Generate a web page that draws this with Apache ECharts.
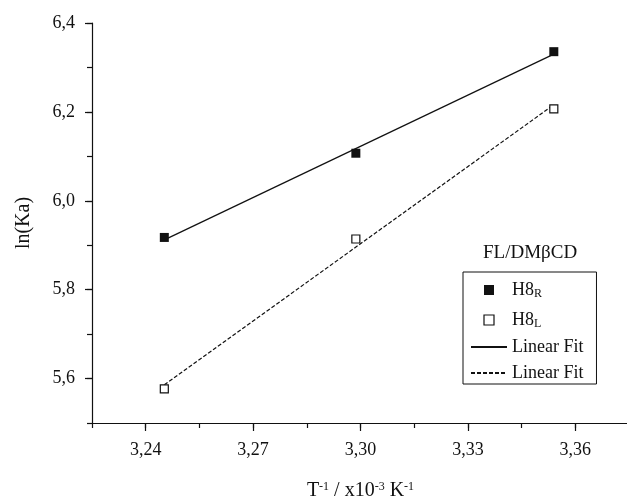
<!DOCTYPE html>
<html>
<head>
<meta charset="utf-8">
<title>ln(Ka) vs 1/T</title>
<script src="https://cdn.jsdelivr.net/npm/echarts@6/dist/echarts.min.js"></script>
</head>
<body style="margin:0">
	<div id="main" style="width: 627px; height: 500px;"></div>
	<script type="text/javascript">
		// data
		var invT = [3.2452, 3.2987, 3.3540];
		var lnKaR = [5.9175, 6.107, 6.3355];
		var lnKaL = [5.577, 5.914, 6.207];
		// linear fit ends (x at first and last point)
		var fitR = [5.912, 6.330];
		var fitL = [5.586, 6.216];
		var xTicks = [3.24, 3.27, 3.30, 3.33, 3.36];
		var yTicks = [5.6, 5.8, 6.0, 6.2, 6.4];

		var serif = 'Liberation Serif';
		var ink = '#111';

		function pairs(xs, ys) {
			var out = [];
			for (var i = 0; i < xs.length; i++) out.push([xs[i], ys[i]]);
			return out;
		}
		var fitX = [invT[0], invT[invT.length - 1]];

		var myChart = echarts.init(document.getElementById('main'));

		var legendNames = {
			R: '{b|H8}{s|R}',
			L: '{b|H8}{s|L}',
			fitR: '{b|Linear Fit}',
			fitL: '{b|Linear Fit}'
		};
		// hide the dot that line series put in their legend icon
		var noDot = { color: 'rgba(0,0,0,0)', borderWidth: 0, opacity: 0 };

		option = {
			animation: false,
			backgroundColor: '#fff',
			title: {
				text: 'FL/DM\u03b2CD',
				left: 483,
				top: 244,
				padding: 0,
				textStyle: { fontFamily: serif, fontSize: 19, fontWeight: 'normal', color: ink }
			},
			legend: {
				orient: 'vertical',
				left: 463,
				top: 272,
				padding: [6, 13, 2, 7],
				itemGap: 8,
				itemWidth: 36,
				itemHeight: 10,
				borderColor: ink,
				borderWidth: 1,
				selectedMode: false,
				data: [
					{ name: 'R', icon: 'path://M0,0H10V10H0Z', itemStyle: { color: ink, opacity: 1 } },
					{ name: 'L', icon: 'path://M0,0H10V10H0Z', itemStyle: { color: '#fff', borderColor: ink, borderWidth: 1.2, opacity: 1 } },
					{ name: 'fitR', itemStyle: noDot },
					{ name: 'fitL', itemStyle: noDot }
				],
				formatter: function (n) { return legendNames[n]; },
				textStyle: {
					fontFamily: serif, color: ink,
					rich: {
						b: { fontFamily: serif, fontSize: 18, color: ink, lineHeight: 20 },
						s: { fontFamily: serif, fontSize: 12, color: ink, lineHeight: 12, padding: [10, 0, 0, 0], verticalAlign: 'bottom' }
					}
				}
			},
			grid: { left: 92, top: 23, width: 537, height: 400, outerBoundsMode: 'none' },
			xAxis: [{
				type: 'value',
				min: 3.225,
				max: 3.375,
				name: 'T{sup|-1} / x10{sup|-3} K{sup|-1}',
				nameLocation: 'middle',
				nameGap: 58,
				nameTextStyle: {
					fontFamily: serif, fontSize: 20, color: ink,
					rich: {
						sup: { fontFamily: serif, fontSize: 12, color: ink, verticalAlign: 'top', padding: [0, 0, 8, 0] }
					}
				},
				axisLine: { onZero: false, lineStyle: { color: ink, width: 1.2 } },
				axisTick: { customValues: xTicks, length: 8, lineStyle: { color: ink, width: 1.2 } },
				axisLabel: {
					customValues: xTicks,
					margin: 18,
					fontFamily: serif, fontSize: 18, color: ink,
					formatter: function (v) { return v.toFixed(2).replace('.', ','); }
				},
				splitLine: { show: false }
			}, {
				// minor ticks
				type: 'value',
				position: 'bottom',
				min: 3.225,
				max: 3.375,
				interval: 0.015,
				axisLine: { show: false },
				axisTick: { length: 5, lineStyle: { color: ink, width: 1.2 } },
				axisLabel: { show: false },
				splitLine: { show: false }
			}],
			yAxis: [{
				type: 'value',
				min: 5.5,
				max: 6.4,
				name: 'ln(Ka)',
				nameLocation: 'middle',
				nameGap: 58,
				nameTextStyle: { fontFamily: serif, fontSize: 20, color: ink },
				axisLine: { show: true, onZero: false, lineStyle: { color: ink, width: 1.2 } },
				axisTick: { show: true, customValues: yTicks, length: 7, lineStyle: { color: ink, width: 1.2 } },
				axisLabel: {
					customValues: yTicks,
					margin: 17,
					fontFamily: serif, fontSize: 18, color: ink,
					formatter: function (v) { return v.toFixed(1).replace('.', ','); }
				},
				splitLine: { show: false }
			}, {
				type: 'value',
				position: 'left',
				min: 5.5,
				max: 6.4,
				interval: 0.1,
				axisLine: { show: false },
				axisTick: { show: true, length: 5, lineStyle: { color: ink, width: 1.2 } },
				axisLabel: { show: false },
				splitLine: { show: false }
			}],
			series: [{
				name: 'fitR',
				type: 'line',
				data: pairs(fitX, fitR),
				symbol: 'none',
				color: ink,
				lineStyle: { color: ink, width: 1.2 },
				z: 2
			}, {
				name: 'fitL',
				type: 'line',
				data: pairs(fitX, fitL),
				symbol: 'none',
				color: ink,
				lineStyle: { color: ink, width: 1.2, type: [4, 2] },
				z: 2
			}, {
				name: 'R',
				type: 'scatter',
				data: pairs(invT, lnKaR),
				symbol: 'rect',
				symbolSize: 9,
				itemStyle: { color: ink, opacity: 1 },
				z: 3
			}, {
				name: 'L',
				type: 'scatter',
				data: pairs(invT, lnKaL),
				symbol: 'rect',
				symbolSize: 8,
				itemStyle: { color: '#fff', borderColor: ink, borderWidth: 1.2, opacity: 1 },
				z: 3
			}]
		};
		myChart.setOption(option);
	</script>
</body>
</html>
